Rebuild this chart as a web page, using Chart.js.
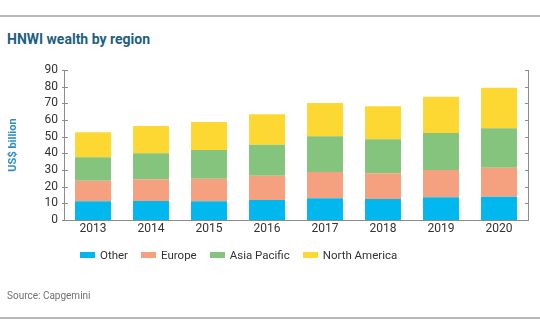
<!DOCTYPE html>
<html>
<head>
<meta charset="utf-8">
<script src="https://cdn.jsdelivr.net/npm/chart.js@4/dist/chart.umd.min.js"></script>
<style>
  html, body { margin: 0; padding: 0; background: #fff; }
  #wrap { position: relative; width: 540px; height: 334px; overflow: hidden; font-family: Roboto, "Noto Sans", sans-serif; }
  #wrap canvas { position: absolute; left: 0; top: 0; }
  .rule { position: absolute; left: 0; width: 540px; height: 2px; background: #b8b8b8; }
  #title { position: absolute; left: 7px; top: 31px; font-size: 14px; font-weight: bold; color: #1d5f80; }
  #source { position: absolute; left: 7px; top: 290px; font-size: 10px; color: #707070; }
  #legend { position: absolute; left: 80px; top: 248px; display: flex; font-size: 11.5px; color: #333; }
  #legend .item { display: flex; align-items: center; margin-right: 13px; }
  #legend .box { width: 15px; height: 6px; margin-right: 5px; }
</style>
</head>
<body>
<div id="wrap">
  <div class="rule" style="top:15px"></div>
  <div id="title">HNWI wealth by region</div>
  <canvas id="chart-bar"></canvas>
  <div id="legend"></div>
  <div id="source">Source: Capgemini</div>
  <div class="rule" style="top:317px"></div>
</div>
<script>
var years = ["2013", "2014", "2015", "2016", "2017", "2018", "2019", "2020"];
var otherData = [11.2, 11.4, 11.2, 12.0, 13.0, 12.6, 13.6, 14.0];
var europeData = [12.4, 13.0, 13.6, 14.6, 15.8, 15.4, 16.4, 17.4];
var asiaPacificData = [14.0, 15.6, 17.2, 18.6, 21.4, 20.4, 22.2, 23.6];
var northAmericaData = [15.0, 16.4, 16.8, 18.2, 20.0, 19.8, 21.8, 24.4];
var yTicks = [0, 10, 20, 30, 40, 50, 60, 70, 80, 90];

var axisColor = '#8c8c8c';

// short tick marks: crossing the left axis, pointing inward on the right one
var axisTicks = {
  id: 'axisTicks',
  afterDraw: function (chart) {
    var c = chart.ctx;
    var left = chart.scales.y;
    var right = chart.scales.y2;
    c.save();
    c.strokeStyle = axisColor;
    c.lineWidth = 1;
    yTicks.forEach(function (v) {
      var py = Math.round(left.getPixelForValue(v)) + 0.5;
      c.beginPath();
      c.moveTo(left.right - 2, py);
      c.lineTo(left.right + 4, py);
      var ry = Math.round(right.getPixelForValue(v)) + 0.5;
      c.moveTo(right.left - 3, ry);
      c.lineTo(right.left, ry);
      c.stroke();
    });
    c.restore();
  }
};

var ctx = document.getElementById("chart-bar").getContext("2d");
var chart = new Chart(ctx, {
  type: "bar",
  data: {
    labels: years,
    datasets: [
      { label: "Other", data: otherData, backgroundColor: "#00b8ee" },
      { label: "Europe", data: europeData, backgroundColor: "#f5a17f" },
      { label: "Asia Pacific", data: asiaPacificData, backgroundColor: "#84c47c" },
      { label: "North America", data: northAmericaData, backgroundColor: "#fdd833" },
    ],
  },
  options: {
    responsive: true,
    maintainAspectRatio: false,
    animation: false,
    layout: {
      padding: { left: 7, right: 12, top: 70, bottom: 98 },
    },
    datasets: {
      bar: { categoryPercentage: 1, barPercentage: 0.62, borderWidth: 0 },
    },
    plugins: {
      legend: { display: false },
      tooltip: { enabled: false },
    },
    scales: {
      x: {
        stacked: true,
        grid: { display: false, drawTicks: false },
        border: { display: true, color: axisColor, width: 1 },
        ticks: {
          padding: 2,
          color: '#333',
          font: { size: 12, family: "Roboto" },
        },
        afterFit: function (scale) { scale.height = 16; },
      },
      y: {
        stacked: true,
        min: 0,
        max: 90,
        grid: { display: false, drawTicks: false },
        border: { display: true, color: axisColor, width: 1 },
        ticks: {
          stepSize: 10,
          autoSkip: false,
          padding: 6,
          color: '#333',
          font: { size: 12, family: "Roboto" },
        },
        title: {
          display: true,
          text: 'US$ billion',
          color: '#2f8fc2',
          padding: { top: 0, bottom: 0 },
          font: { size: 11, weight: 'bold', family: "Roboto" },
        },
        afterFit: function (scale) { scale.width = 57; },
      },
      y2: {
        position: 'right',
        min: 0,
        max: 90,
        grid: { display: false, drawTicks: false },
        border: { display: true, color: axisColor, width: 1 },
        ticks: { display: false, stepSize: 10 },
        afterFit: function (scale) { scale.width = 0; },
      },
    },
  },
  plugins: [axisTicks],
});

// legend built from the dataset colours
var legendEl = document.getElementById('legend');
chart.data.datasets.forEach(function (ds) {
  var item = document.createElement('div');
  item.className = 'item';
  var box = document.createElement('span');
  box.className = 'box';
  box.style.background = ds.backgroundColor;
  var txt = document.createElement('span');
  txt.textContent = ds.label;
  item.appendChild(box);
  item.appendChild(txt);
  legendEl.appendChild(item);
});
</script>
</body>
</html>
